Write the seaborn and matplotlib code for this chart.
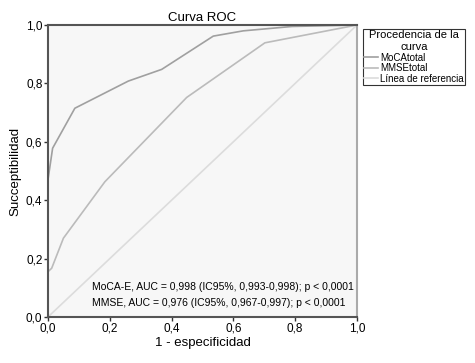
import matplotlib
matplotlib.use('Agg')
import matplotlib.pyplot as plt
import numpy as np
import pandas as pd
import seaborn as sns

# ROC points (1 - specificity, sensitivity)
moca_fpr = [0.0, 0.0, 0.015, 0.087, 0.26, 0.368, 0.535, 0.632, 0.79, 1.0]
moca_tpr = [0.0, 0.47, 0.578, 0.715, 0.808, 0.848, 0.962, 0.98, 0.995, 1.0]
mmse_fpr = [0.0, 0.0, 0.012, 0.05, 0.184, 0.449, 0.702, 1.0]
mmse_tpr = [0.0, 0.155, 0.167, 0.27, 0.463, 0.752, 0.939, 1.0]
ref_fpr = [0.0, 1.0]
ref_tpr = [0.0, 1.0]

series_names = ['MoCAtotal', 'MMSEtotal', 'Línea de referencia']
series_colors = ['#a0a0a0', '#bbbbbb', '#dcdcdc']
tick_vals = [0.0, 0.2, 0.4, 0.6, 0.8, 1.0]
tick_labels = ['0,0', '0,2', '0,4', '0,6', '0,8', '1,0']
auc_lines = [
    'MoCA-E, AUC = 0,998 (IC95%, 0,993-0,998); p < 0,0001',
    'MMSE, AUC = 0,976 (IC95%, 0,967-0,997); p < 0,0001',
]

frames = []
for name, fx, fy in zip(series_names,
                        [moca_fpr, mmse_fpr, ref_fpr],
                        [moca_tpr, mmse_tpr, ref_tpr]):
    frames.append(pd.DataFrame({'fpr': fx, 'tpr': fy, 'curva': name}))
roc_df = pd.concat(frames, ignore_index=True)

plt.rcParams['font.family'] = ['Liberation Sans', 'DejaVu Sans']

fig = plt.figure(figsize=(4.75, 3.63), dpi=100)
ax = fig.add_axes([0.101, 0.1267, 0.6505, 0.8044])
ax.set_facecolor('#f7f7f7')

sns.lineplot(data=roc_df, x='fpr', y='tpr', hue='curva', hue_order=series_names,
             palette=dict(zip(series_names, series_colors)), sort=False,
             estimator=None, linewidth=1.2, legend=False, ax=ax)

ax.set_xlim(0, 1)
ax.set_ylim(0, 1)
ax.set_xticks(tick_vals)
ax.set_xticklabels(tick_labels)
ax.set_yticks(tick_vals)
ax.set_yticklabels(tick_labels)
ax.tick_params(axis='both', direction='out', length=3, width=1, color='#333333',
               labelsize=8.5, pad=1)

for side in ['left', 'top', 'bottom']:
    ax.spines[side].set_color('#555555')
    ax.spines[side].set_linewidth(1.5)
ax.spines['right'].set_color('#aaaaaa')
ax.spines['right'].set_linewidth(1.5)

ax.set_xlabel('1 - especificidad', fontsize=9.5, labelpad=2)
ax.set_ylabel('Succeptibilidad', fontsize=9.5, labelpad=3)
ax.set_title('Curva ROC', fontsize=9.5, pad=3)

ax.text(0.142, 0.104, auc_lines[0], transform=ax.transAxes, fontsize=7.5,
        ha='left', va='center')
ax.text(0.142, 0.047, auc_lines[1], transform=ax.transAxes, fontsize=7.5,
        ha='left', va='center')

handles = [plt.Line2D([], [], color=c, linewidth=1.2) for c in series_colors]
leg = fig.legend(handles, series_names, title='Procedencia de la\ncurva',
                 loc='upper left', bbox_to_anchor=(363 / 475, 1 - 29 / 363),
                 fontsize=7, title_fontsize=8, frameon=True, fancybox=False,
                 edgecolor='black', handlelength=1.4, handletextpad=0.2,
                 labelspacing=0.05, borderpad=0.15, borderaxespad=0)
leg.get_frame().set_linewidth(0.8)
leg.get_title().set_multialignment('center')

fig.savefig('out.png', dpi=100)
